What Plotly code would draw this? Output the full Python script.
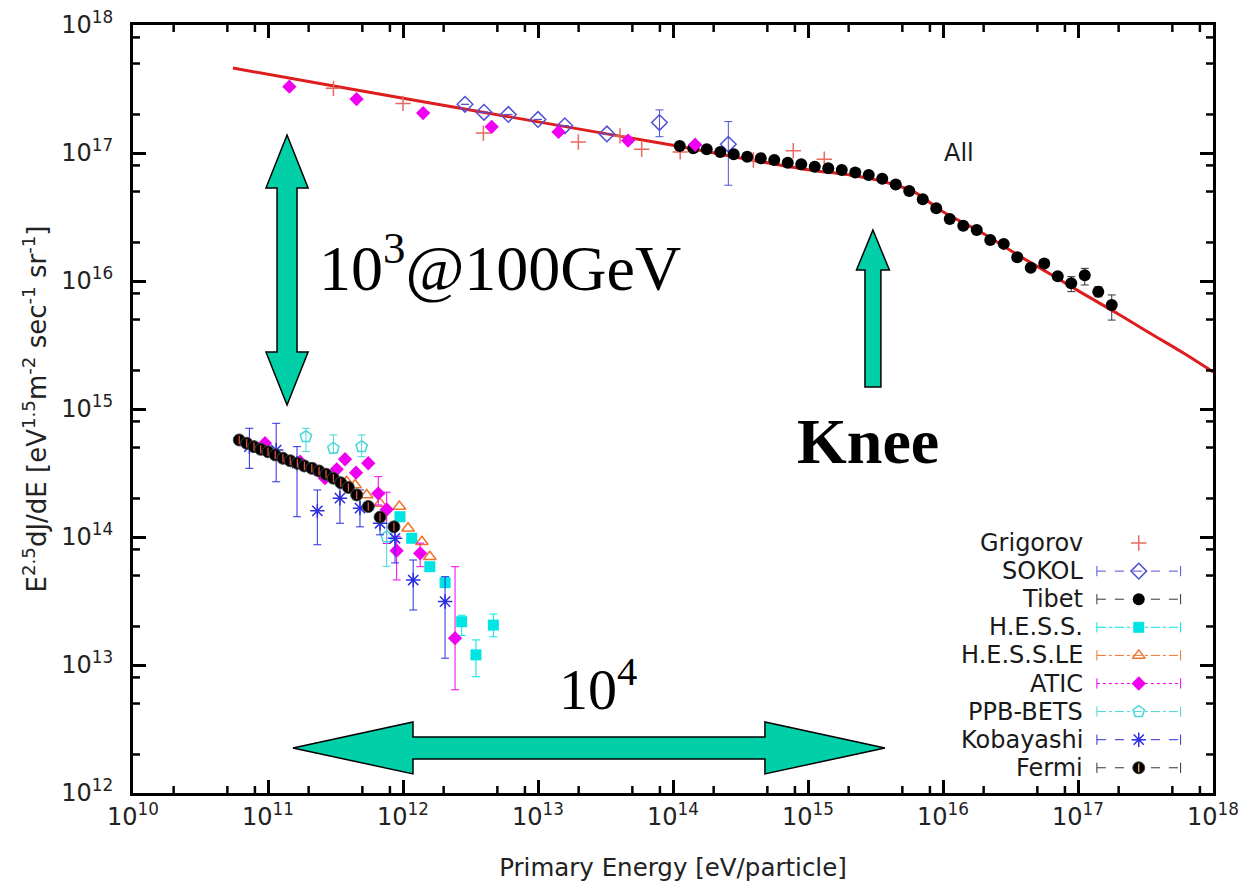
import plotly.graph_objects as go

# ---------------- all-particle spectrum ----------------
grigorov_e = [3.05e11, 1.00e12, 3.94e12, 1.99e13, 4.05e13, 5.86e13, 1.13e14, 3.94e14, 7.78e14, 1.32e15]
grigorov_f = [3.20e17, 2.44e17, 1.43e17, 1.22e17, 1.36e17, 1.07e17, 1.02e17, 8.81e16, 1.04e17, 8.93e16]

sokol_e = [2.88e12, 3.98e12, 6.03e12, 1.00e13, 1.58e13, 3.24e13, 7.94e13, 2.57e14]
sokol_f = [2.40e17, 2.08e17, 2.00e17, 1.83e17, 1.63e17, 1.41e17, 1.73e17, 1.17e17]
sokol_up = [0, 0, 0, 0, 0, 0, 4.4e16, 5.9e16]
sokol_dn = [0, 0, 0, 0, 0, 0, 3.9e16, 6.1e16]

tibet_e = [1.122e14, 1.413e14, 1.778e14, 2.239e14, 2.818e14, 3.548e14, 4.467e14, 5.623e14, 7.079e14, 8.913e14,
           1.122e15, 1.413e15, 1.778e15, 2.239e15, 2.818e15, 3.548e15, 4.467e15, 5.623e15, 7.079e15, 8.913e15,
           1.122e16, 1.413e16, 1.778e16, 2.239e16, 2.818e16, 3.548e16, 4.467e16, 5.623e16, 7.079e16, 8.913e16,
           1.122e17, 1.413e17, 1.778e17]
tibet_f = [1.135e17, 1.089e17, 1.069e17, 1.019e17, 9.77e16, 9.35e16, 9.10e16, 8.81e16, 8.39e16, 8.17e16,
           7.82e16, 7.59e16, 7.36e16, 7.05e16, 6.73e16, 6.30e16, 5.68e16, 5.05e16, 4.35e16, 3.70e16,
           3.05e16, 2.70e16, 2.50e16, 2.09e16, 1.95e16, 1.53e16, 1.27e16, 1.37e16, 1.09e16, 9.59e15,
           1.11e16, 8.24e15, 6.50e15]
tibet_up = [0] * 28 + [0.7e15, 1.22e15, 1.46e15, 0.78e15, 1.28e15]
tibet_dn = [0] * 28 + [0.7e15, 1.33e15, 1.79e15, 0.71e15, 1.55e15]

atic_all_e = [1.44e11, 4.53e11, 1.41e12, 4.54e12, 1.42e13, 4.65e13, 1.46e14]
atic_all_f = [3.30e17, 2.64e17, 2.05e17, 1.60e17, 1.46e17, 1.25e17, 1.16e17]

# broken power-law fit through the all-particle data ("All")
fit_e = [5.5e10, 3e11, 3e12, 3e13, 1e14, 3e14, 1e15, 2e15, 3.5e15, 6e15, 1e16, 2e16,
         3.5e16, 6e16, 1e17, 2e17, 3.5e17, 6e17, 1e18]
fit_f = [4.61e17, 3.35e17, 2.19e17, 1.43e17, 1.15e17, 9.23e16, 7.41e16, 6.76e16, 6.03e16, 5.01e16,
         3.47e16, 2.34e16, 1.62e16, 1.16e16, 8.41e15, 5.50e15, 3.85e15, 2.75e15, 1.95e15]

# ---------------- electron spectrum ----------------
fermi_e = [6.12e10, 6.95e10, 7.87e10, 8.83e10, 1.00e11, 1.13e11, 1.29e11, 1.46e11, 1.65e11, 1.86e11,
           2.11e11, 2.39e11, 2.69e11, 3.05e11, 3.46e11, 3.94e11, 4.54e11, 5.53e11, 6.76e11, 8.57e11]
fermi_f = [5.73e14, 5.40e14, 5.08e14, 4.84e14, 4.63e14, 4.38e14, 4.12e14, 3.94e14, 3.77e14, 3.59e14,
           3.44e14, 3.28e14, 3.09e14, 2.88e14, 2.65e14, 2.44e14, 2.13e14, 1.73e14, 1.43e14, 1.20e14]

atic_el_e = [9.5e10, 1.73e11, 2.23e11, 2.64e11, 3.23e11, 3.72e11, 4.49e11, 5.53e11, 6.56e11, 7.57e11,
             8.97e11, 1.34e12, 2.43e12]
atic_el_f = [5.40e14, 3.87e14, 3.38e14, 2.88e14, 3.38e14, 4.05e14, 3.18e14, 3.77e14, 2.19e14, 1.64e14,
             7.82e13, 7.46e13, 1.62e13]
atic_el_up = [0, 0, 0, 0, 0, 0, 0, 0, 7.7e13, 6.0e13, 2.3e13, 1.5e13, 4.24e13]
atic_el_dn = [0, 0, 0, 0, 0, 0, 0, 0, 4.1e13, 7.5e13, 3.2e13, 1.6e13, 9.8e12]

hess_e = [9.5e11, 1.16e12, 1.58e12, 2.05e12, 2.72e12, 3.47e12, 4.67e12]
hess_f = [1.44e14, 9.77e13, 5.86e13, 4.40e13, 2.18e13, 1.20e13, 2.05e13]
hess_up = [7e12, 5e12, 3e12, 2.5e12, 2.7e12, 3.7e12, 4.5e12]
hess_dn = [7e12, 5e12, 3e12, 2.5e12, 4.8e12, 3.9e12, 3.9e12]

hess_le_e = [3.83e11, 4.41e11, 5.38e11, 6.76e11, 9.40e11, 1.09e12, 1.38e12, 1.58e12]
hess_le_f = [2.70e14, 2.55e14, 2.13e14, 1.83e14, 1.73e14, 1.17e14, 9.18e13, 7.02e13]

ppb_e = [1.91e11, 3.05e11, 4.94e11, 7.57e11]
ppb_f = [6.08e14, 4.93e14, 5.08e14, 1.00e14]
ppb_up = [0.98e14, 1.34e14, 1.19e14, 0.28e14]
ppb_dn = [1.43e14, 0.42e14, 0.84e14, 0.41e14]

koba_e = [7.28e10, 1.15e11, 1.64e11, 2.32e11, 3.41e11, 4.80e11, 6.76e11, 8.73e11, 1.19e12, 2.05e12]
koba_f = [5.08e14, 4.78e14, 3.77e14, 1.60e14, 2.01e14, 1.68e14, 1.28e14, 9.77e13, 4.61e13, 3.13e13]
koba_up = [1.99e14, 2.95e14, 1.31e14, 0.73e14, 0.78e14, 0.65e14, 0.21e14, 0.30e14, 2.0e13, 1.77e13]
koba_dn = [1.64e14, 2.08e14, 2.33e14, 0.73e14, 0.73e14, 0.48e14, 0.24e14, 0.35e14, 1.92e13, 2.0e13]

# ---------------- styles ----------------
RED = "rgb(222,30,30)"
C_GRIG = "rgb(232,105,95)"
C_SOKOL = "rgb(80,80,215)"
C_HESS = "rgb(0,228,228)"
C_HESSLE = "rgb(240,115,45)"
C_ATIC = "rgb(240,0,240)"
C_PPB = "rgb(70,215,215)"
C_KOBA = "rgb(45,45,225)"
TEAL = "#00CFA8"

M_GRIG = dict(symbol="cross-thin-open", size=11, line=dict(color=C_GRIG, width=1.5), color=C_GRIG)
M_SOKOL = dict(symbol="diamond-open", size=12, line=dict(color=C_SOKOL, width=1.5), color=C_SOKOL)
M_TIBET = dict(symbol="circle", size=12, color="black")
M_HESS = dict(symbol="square", size=11, color=C_HESS)
M_HESSLE = dict(symbol="triangle-up-open", size=11, line=dict(color=C_HESSLE, width=1.5), color=C_HESSLE)
M_ATIC = dict(symbol="diamond", size=11, color=C_ATIC)
M_PPB = dict(symbol="pentagon-open", size=12, line=dict(color=C_PPB, width=1.5), color=C_PPB)
M_KOBA = dict(symbol="asterisk-open", size=12, line=dict(color=C_KOBA, width=1.5), color=C_KOBA)
M_FERMI = dict(symbol="circle", size=12, color="black", line=dict(color="#444", width=1))
M_FERMI_HALF = dict(symbol="line-ns-open", size=6, line=dict(color="rgba(235,235,235,0.9)", width=1.2))

fig = go.Figure()


def err(up, dn, color):
    return dict(type="data", symmetric=False, array=up, arrayminus=dn,
                color=color, thickness=1, width=4)


fig.add_trace(go.Scatter(x=fit_e, y=fit_f, mode="lines", line=dict(color=RED, width=3, shape="spline")))

series = [
    ("Grigorov", grigorov_e, grigorov_f, None, M_GRIG),
    ("SOKOL", sokol_e, sokol_f, err(sokol_up, sokol_dn, C_SOKOL), M_SOKOL),
    ("Tibet", tibet_e, tibet_f, err(tibet_up, tibet_dn, "#333"), M_TIBET),
    ("H.E.S.S.", hess_e, hess_f, err(hess_up, hess_dn, C_HESS), M_HESS),
    ("H.E.S.S.LE", hess_le_e, hess_le_f, None, M_HESSLE),
    ("ATIC", atic_all_e, atic_all_f, None, M_ATIC),
    ("ATIC", atic_el_e, atic_el_f, err(atic_el_up, atic_el_dn, C_ATIC), M_ATIC),
    ("PPB-BETS", ppb_e, ppb_f, err(ppb_up, ppb_dn, C_PPB), M_PPB),
    ("Kobayashi", koba_e, koba_f, err(koba_up, koba_dn, C_KOBA), M_KOBA),
    ("Fermi", fermi_e, fermi_f, None, M_FERMI),
    ("Fermi", fermi_e, fermi_f, None, M_FERMI_HALF),
]
for name, xs, ys, ey, mk in series:
    fig.add_trace(go.Scatter(x=xs, y=ys, mode="markers", name=name, marker=mk,
                             error_y=ey if ey else dict(visible=False)))

# ---------------- key (text right, sample on the right) ----------------
key_rows = [
    ("Grigorov", None, [M_GRIG], C_GRIG),
    ("SOKOL", "dash", [M_SOKOL], C_SOKOL),
    ("Tibet", "dash", [M_TIBET], "#333"),
    ("H.E.S.S.", "dashdot", [M_HESS], C_HESS),
    ("H.E.S.S.LE", "dashdot", [M_HESSLE], C_HESSLE),
    ("ATIC", "dot", [M_ATIC], C_ATIC),
    ("PPB-BETS", "dashdot", [M_PPB], C_PPB),
    ("Kobayashi", "dash", [M_KOBA], C_KOBA),
    ("Fermi", "dash", [M_FERMI, M_FERMI_HALF], "#333"),
]
# key geometry in (log10 E, log10 flux) units of the overlay axes
key_text_x = 17.05
key_x0, key_x1, key_xm = 17.14, 17.76, 17.45
key_y0, key_dy = 13.953, 0.2195

shapes = []
annotations = []
for i, (label, dash, mks, col) in enumerate(key_rows):
    yk = key_y0 - i * key_dy
    annotations.append(dict(x=key_text_x, y=yk, xref="x2", yref="y2", text=label, showarrow=False,
                            xanchor="right", yanchor="middle",
                            font=dict(family="DejaVu Sans", size=24, color="#1a1a1a")))
    if dash:
        fig.add_trace(go.Scatter(x=[key_x0, key_x1], y=[yk, yk], xaxis="x2", yaxis="y2", mode="lines",
                                 line=dict(color=col, width=1, dash=dash), hoverinfo="skip"))
        for xe in (key_x0, key_x1):
            shapes.append(dict(type="line", xref="x2", yref="y2", x0=xe, x1=xe,
                               y0=yk - 0.04, y1=yk + 0.04, line=dict(color=col, width=1)))
    for mk in mks:
        fig.add_trace(go.Scatter(x=[key_xm], y=[yk], xaxis="x2", yaxis="y2", mode="markers",
                                 marker=mk, hoverinfo="skip"))

# ---------------- minor ticks (2, 5, 8 of each decade) on all four sides ----------------
minor_lx = [k + m for k in range(10, 18) for m in (0.30103, 0.69897, 0.90309)]
minor_ly = [k + m for k in range(12, 18) for m in (0.30103, 0.69897, 0.90309)]
tick_style = dict(line=dict(color="black", width=2.5), layer="above")
tx = 7 / 768   # minor tick length as a fraction of plot height
ty = 7 / 1080  # minor tick length as a fraction of plot width
for v in minor_lx:
    shapes.append(dict(type="line", xref="x2", yref="paper", x0=v, x1=v, y0=0, y1=tx, **tick_style))
    shapes.append(dict(type="line", xref="x2", yref="paper", x0=v, x1=v, y0=1, y1=1 - tx, **tick_style))
for v in minor_ly:
    shapes.append(dict(type="line", xref="paper", yref="y2", x0=0, x1=ty, y0=v, y1=v, **tick_style))
    shapes.append(dict(type="line", xref="paper", yref="y2", x0=1, x1=1 - ty, y0=v, y1=v, **tick_style))

# ---------------- block arrows ----------------


def v_arrow(xc, y_tip, y_base, y_end, hw, sw, double=False, y_base2=None):
    pts = [(xc, y_tip), (xc + hw, y_base), (xc + sw, y_base)]
    if double:
        pts += [(xc + sw, y_base2), (xc + hw, y_base2), (xc, y_end), (xc - hw, y_base2), (xc - sw, y_base2)]
    else:
        pts += [(xc + sw, y_end), (xc - sw, y_end)]
    pts += [(xc - sw, y_base), (xc - hw, y_base)]
    return "M " + " L ".join(f"{a:.4f},{b:.4f}" for a, b in pts) + " Z"


def h_arrow(yc, x_left, x_right, hl, hh, sh):
    pts = [(x_left, yc), (x_left + hl, yc + hh), (x_left + hl, yc + sh), (x_right - hl, yc + sh),
           (x_right - hl, yc + hh), (x_right, yc), (x_right - hl, yc - hh), (x_right - hl, yc - sh),
           (x_left + hl, yc - sh), (x_left + hl, yc - hh)]
    return "M " + " L ".join(f"{a:.4f},{b:.4f}" for a, b in pts) + " Z"


arrow_style = dict(type="path", xref="x2", yref="y2", fillcolor=TEAL, line=dict(color="black", width=1.5))
shapes.append(dict(path=v_arrow(11.141, 17.141, 16.727, 15.031, 0.156, 0.074, double=True, y_base2=15.445),
                   **arrow_style))
shapes.append(dict(path=v_arrow(15.481, 16.398, 16.086, 15.172, 0.122, 0.059), **arrow_style))
shapes.append(dict(path=h_arrow(12.352, 11.185, 15.570, 0.889, 0.203, 0.086), **arrow_style))

serif = "Liberation Serif"
annotations += [
    dict(x=12.719, y=16.14, xref="x2", yref="y2", showarrow=False, text="10<sup>3</sup>@100GeV",
         font=dict(family=serif, size=64, color="black")),
    dict(x=15.444, y=14.75, xref="x2", yref="y2", showarrow=False, text="<b>Knee</b>",
         font=dict(family=serif, size=64, color="black")),
    dict(x=13.444, y=12.84, xref="x2", yref="y2", showarrow=False, text="10<sup>4</sup>",
         font=dict(family=serif, size=58, color="black")),
    dict(x=16.12, y=17.0, xref="x2", yref="y2", showarrow=False, text="All",
         font=dict(family="DejaVu Sans", size=24, color="#1a1a1a")),
]

decx = [10 ** k for k in range(10, 19)]
decy = [10 ** k for k in range(12, 19)]

axis_common = dict(type="log", ticks="inside", ticklen=13, tickwidth=2.5, tickcolor="black",
                   showline=True, linewidth=3, linecolor="black", mirror="allticks",
                   showgrid=False, zeroline=False, automargin=False,
                   tickfont=dict(family="DejaVu Sans", size=24, color="#222"))

fig.update_layout(
    width=1245, height=884,
    margin=dict(l=133, r=32, t=25, b=91),
    paper_bgcolor="white", plot_bgcolor="white",
    showlegend=False,
    xaxis=dict(range=[10, 18], tickmode="array", tickvals=decx,
               ticktext=[f"10<sup>{k}</sup>" for k in range(10, 19)],
               title=dict(text="Primary Energy [eV/particle]", standoff=30,
                          font=dict(family="DejaVu Sans", size=24.5, color="#222")),
               **axis_common),
    yaxis=dict(range=[12, 18], tickmode="array", tickvals=decy,
               ticktext=[f"10<sup>{k}</sup>" for k in range(12, 19)],
               ticklabelstandoff=12,
               title=dict(text="E<sup>2.5</sup>dJ/dE [eV<sup>1.5</sup>m<sup>-2</sup> sec<sup>-1</sup> sr<sup>-1</sup>]",
                          standoff=8, font=dict(family="DejaVu Sans", size=26, color="#222")),
               **axis_common),
    xaxis2=dict(overlaying="x", anchor="y2", range=[10, 18], visible=False, fixedrange=True),
    yaxis2=dict(overlaying="y", anchor="x2", range=[12, 18], visible=False, fixedrange=True),
    shapes=shapes,
    annotations=annotations,
)

fig.write_html("out.html")
